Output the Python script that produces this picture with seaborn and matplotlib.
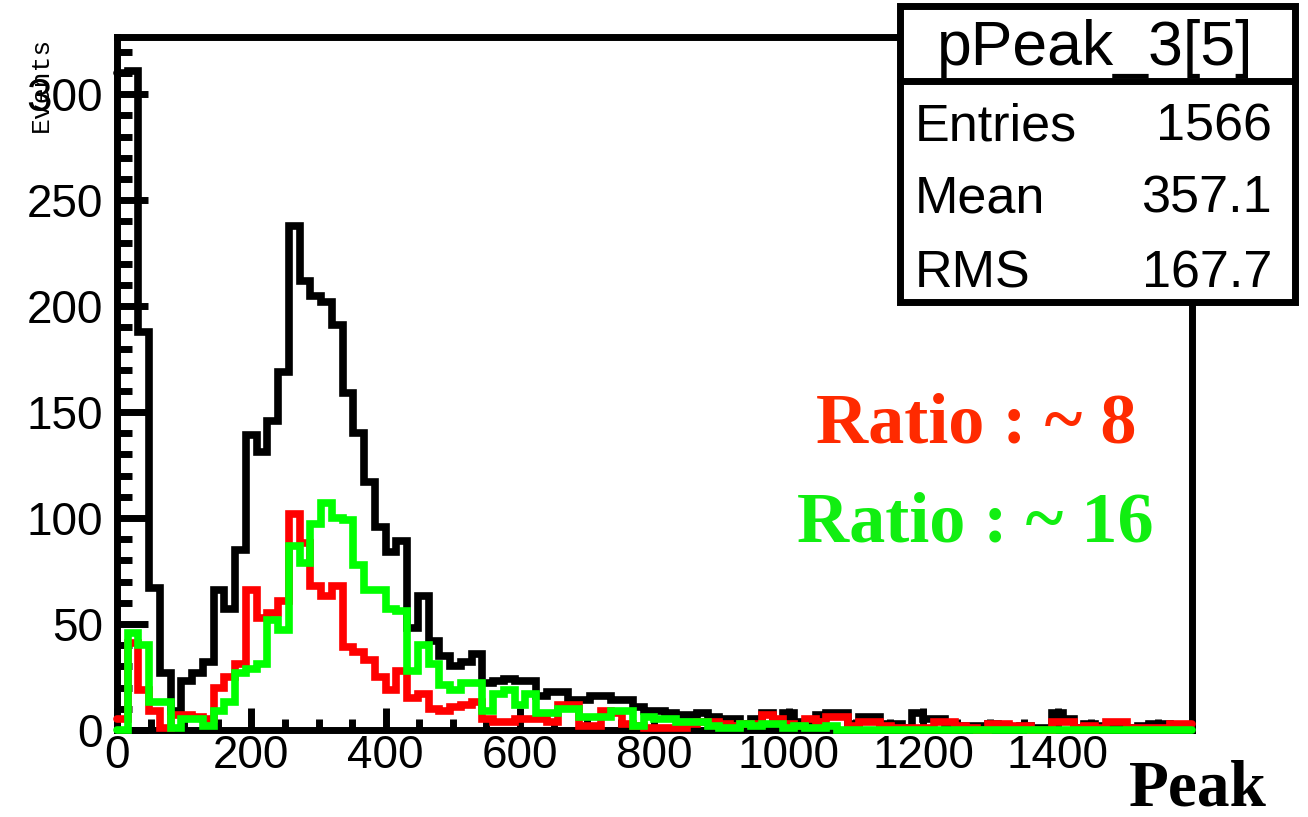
import numpy as np
import pandas as pd
import matplotlib
matplotlib.use("Agg")
import matplotlib.pyplot as plt
from matplotlib.patches import Rectangle
from matplotlib.ticker import MultipleLocator
import seaborn as sns

# bin contents, 100 bins of width 16 between 0 and 1600
black = [310, 311, 188, 67, 27, 9, 23, 27, 32, 66,
         57, 85, 139, 131, 146, 169, 238, 212, 205, 202,
         191, 159, 140, 117, 96, 84, 89, 48, 63, 42,
         35, 30, 32, 36, 22, 23, 24, 23, 23, 16,
         18, 18, 14, 14, 16, 16, 14, 14, 11, 9,
         9, 8, 7, 7, 8, 6, 5, 5, 3, 5,
         8, 4, 8, 4, 4, 7, 8, 8, 3, 6,
         6, 3, 3, 1, 8, 5, 5, 2, 2, 2,
         2, 3, 1, 1, 2, 1, 1, 8, 5, 1,
         3, 2, 2, 1, 1, 2, 3, 3, 1, 1]
red = [5, 41, 19, 9, 1, 7, 7, 6, 5, 20,
       25, 31, 66, 53, 55, 61, 102, 88, 68, 63,
       68, 39, 37, 33, 25, 19, 28, 15, 17, 10,
       9, 11, 12, 13, 5, 4, 4, 5, 5, 5,
       4, 12, 12, 2, 2, 9, 8, 3, 2, 1,
       1, 1, 1, 3, 4, 4, 3, 2, 3, 3,
       7, 5, 3, 2, 5, 4, 6, 6, 2, 4,
       4, 2, 1, 1, 1, 1, 4, 4, 2, 1,
       0, 3, 3, 2, 2, 0, 0, 4, 4, 1,
       2, 1, 4, 4, 1, 1, 1, 1, 3, 3]
green = [0, 46, 40, 13, 13, 1, 5, 5, 2, 9,
         13, 27, 29, 31, 52, 47, 87, 79, 97, 107,
         100, 99, 78, 66, 66, 57, 56, 28, 40, 31,
         21, 19, 22, 22, 9, 17, 19, 12, 17, 8,
         8, 10, 10, 6, 6, 6, 9, 9, 2, 6,
         5, 5, 4, 4, 4, 2, 1, 1, 3, 2,
         3, 3, 1, 2, 1, 1, 2, 0, 0, 0,
         0, 0, 0, 0, 0, 0, 0, 0, 0, 0,
         0, 0, 0, 0, 0, 0, 0, 0, 0, 0,
         0, 0, 0, 0, 0, 0, 0, 0, 0, 0]

x_ticks = [0, 200, 400, 600, 800, 1000, 1200, 1400]
y_ticks = [0, 50, 100, 150, 200, 250, 300]
box_title = "pPeak_3[5]"
stat_names = ["Entries", "Mean", "RMS"]
stat_values = ["1566", "357.1", "167.7"]
ratio_texts = ["Ratio : ~ 8", "Ratio : ~ 16"]
ratio_colors = ["#ff2a00", "#11ee11"]

sns.set_style("white")
plt.rcParams["font.family"] = ["Liberation Sans", "DejaVu Sans"]
plt.rcParams["text.color"] = "black"
plt.rcParams["xtick.labelcolor"] = "black"
plt.rcParams["ytick.labelcolor"] = "black"

edges = np.linspace(0, 1600, len(black) + 1)
df = pd.DataFrame({"peak": (edges[:-1] + edges[1:]) / 2,
                   "black": black, "red": red, "green": green})

fig = plt.figure(figsize=(13.08, 8.17), dpi=100)
ax = fig.add_axes([0.0894, 0.1065, 0.8219, 0.8482])

for col, c in [("black", "black"), ("red", "#ff0000"), ("green", "#00ff00")]:
    sns.histplot(data=df, x="peak", weights=col, bins=100, binrange=(0, 1600),
                 element="step", fill=False, color=c, linewidth=5.5,
                 solid_joinstyle="miter", zorder=3, clip_on=False, ax=ax)

ax.set_xlim(0, 1600)
ax.set_ylim(0, 327)
ax.set_xlabel("")
ax.set_ylabel("")
ax.set_xticks(x_ticks)
ax.set_yticks(y_ticks)
ax.xaxis.set_minor_locator(MultipleLocator(50))
ax.yaxis.set_minor_locator(MultipleLocator(10))
for s in ax.spines.values():
    s.set_linewidth(5)
    s.set_color("black")
ax.tick_params(axis="both", which="both", direction="in", width=5, color="black",
               labelcolor="black", bottom=True, left=True, top=False, right=False,
               labelsize=33)
ax.tick_params(axis="x", which="major", length=16, pad=3)
ax.tick_params(axis="x", which="minor", length=8)
ax.tick_params(axis="y", which="major", length=22, pad=10)
ax.tick_params(axis="y", which="minor", length=11)

fig.text(0.031, 0.955, "Events", rotation=90, va="top", ha="center",
         family="Liberation Mono", fontsize=19, color="black")
fig.text(0.9687, 0.014, "Peak", ha="right", va="baseline",
         family="Liberation Serif", fontweight="bold", fontsize=47, color="black")

for i, (t, c) in enumerate(zip(ratio_texts, ratio_colors)):
    fig.text(0.746, 0.4578 - i * 0.1212, t, color=c, ha="center", va="baseline",
             family="Liberation Serif", fontweight="bold", fontsize=52)

# stats box
fig.add_artist(Rectangle((0.688, 0.6304), 0.302, 0.3623, transform=fig.transFigure,
                         facecolor="white", edgecolor="black", linewidth=5, zorder=5))
fig.add_artist(plt.Line2D([0.688, 0.990], [0.901, 0.901], transform=fig.transFigure,
                          color="black", linewidth=5, zorder=6))
fig.text(0.837, 0.9204, box_title, ha="center", va="baseline", fontsize=45,
         color="black", zorder=7)
for i, (n, v) in enumerate(zip(stat_names, stat_values)):
    y = [0.8286, 0.7393, 0.6487][i]
    fig.text(0.6995, y, n, ha="left", va="baseline", fontsize=37.5, color="black", zorder=7)
    fig.text(0.9725, y, v, ha="right", va="baseline", fontsize=37.5, color="black", zorder=7)

fig.savefig("out.png", dpi=100)
